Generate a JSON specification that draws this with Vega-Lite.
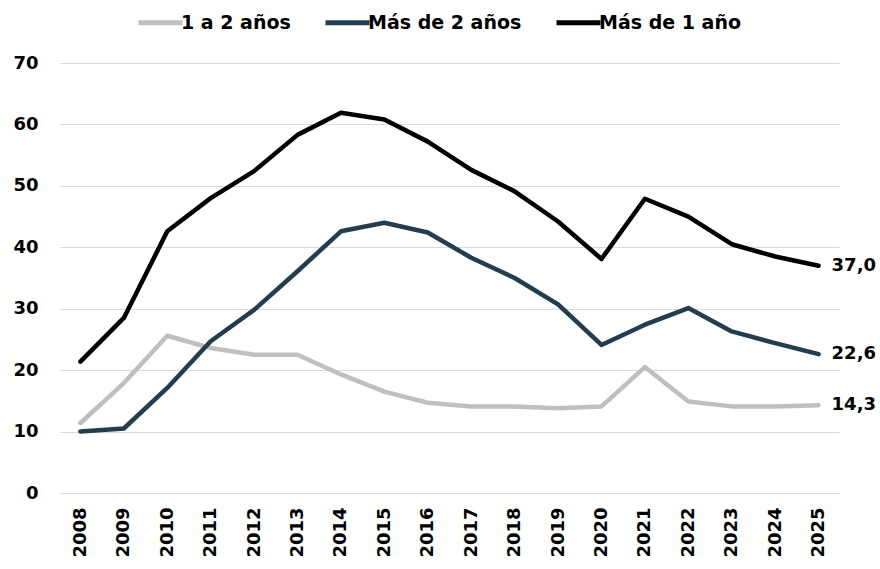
{
  "$schema": "https://vega.github.io/schema/vega-lite/v6.json",
  "autosize": {"type": "none"},
  "width": 779,
  "height": 430,
  "padding": {"left": 60, "top": 63, "right": 41, "bottom": 76},
  "background": "white",
  "config": {
    "view": {"stroke": null},
    "font": "DejaVu Sans",
    "locale": {"number": {"decimal": ",", "thousands": ".", "grouping": [3], "currency": ["", ""]}}
  },
  "data": {
    "values": [
      {"year": "2008", "serie": "1 a 2 años", "value": 11.4},
      {"year": "2009", "serie": "1 a 2 años", "value": 17.9},
      {"year": "2010", "serie": "1 a 2 años", "value": 25.6},
      {"year": "2011", "serie": "1 a 2 años", "value": 23.6},
      {"year": "2012", "serie": "1 a 2 años", "value": 22.5},
      {"year": "2013", "serie": "1 a 2 años", "value": 22.5},
      {"year": "2014", "serie": "1 a 2 años", "value": 19.3},
      {"year": "2015", "serie": "1 a 2 años", "value": 16.5},
      {"year": "2016", "serie": "1 a 2 años", "value": 14.7},
      {"year": "2017", "serie": "1 a 2 años", "value": 14.1},
      {"year": "2018", "serie": "1 a 2 años", "value": 14.1},
      {"year": "2019", "serie": "1 a 2 años", "value": 13.8},
      {"year": "2020", "serie": "1 a 2 años", "value": 14.1},
      {"year": "2021", "serie": "1 a 2 años", "value": 20.5},
      {"year": "2022", "serie": "1 a 2 años", "value": 14.9},
      {"year": "2023", "serie": "1 a 2 años", "value": 14.1},
      {"year": "2024", "serie": "1 a 2 años", "value": 14.1},
      {"year": "2025", "serie": "1 a 2 años", "value": 14.3},
      {"year": "2008", "serie": "Más de 2 años", "value": 10.0},
      {"year": "2009", "serie": "Más de 2 años", "value": 10.5},
      {"year": "2010", "serie": "Más de 2 años", "value": 17.1},
      {"year": "2011", "serie": "Más de 2 años", "value": 24.7},
      {"year": "2012", "serie": "Más de 2 años", "value": 29.8},
      {"year": "2013", "serie": "Más de 2 años", "value": 36.1},
      {"year": "2014", "serie": "Más de 2 años", "value": 42.6},
      {"year": "2015", "serie": "Más de 2 años", "value": 44.0},
      {"year": "2016", "serie": "Más de 2 años", "value": 42.4},
      {"year": "2017", "serie": "Más de 2 años", "value": 38.3},
      {"year": "2018", "serie": "Más de 2 años", "value": 35.0},
      {"year": "2019", "serie": "Más de 2 años", "value": 30.7},
      {"year": "2020", "serie": "Más de 2 años", "value": 24.1},
      {"year": "2021", "serie": "Más de 2 años", "value": 27.4},
      {"year": "2022", "serie": "Más de 2 años", "value": 30.1},
      {"year": "2023", "serie": "Más de 2 años", "value": 26.3},
      {"year": "2024", "serie": "Más de 2 años", "value": 24.4},
      {"year": "2025", "serie": "Más de 2 años", "value": 22.6},
      {"year": "2008", "serie": "Más de 1 año", "value": 21.4},
      {"year": "2009", "serie": "Más de 1 año", "value": 28.5},
      {"year": "2010", "serie": "Más de 1 año", "value": 42.6},
      {"year": "2011", "serie": "Más de 1 año", "value": 48.0},
      {"year": "2012", "serie": "Más de 1 año", "value": 52.4},
      {"year": "2013", "serie": "Más de 1 año", "value": 58.3},
      {"year": "2014", "serie": "Más de 1 año", "value": 61.9},
      {"year": "2015", "serie": "Más de 1 año", "value": 60.8},
      {"year": "2016", "serie": "Más de 1 año", "value": 57.2},
      {"year": "2017", "serie": "Más de 1 año", "value": 52.6},
      {"year": "2018", "serie": "Más de 1 año", "value": 49.1},
      {"year": "2019", "serie": "Más de 1 año", "value": 44.2},
      {"year": "2020", "serie": "Más de 1 año", "value": 38.1},
      {"year": "2021", "serie": "Más de 1 año", "value": 47.9},
      {"year": "2022", "serie": "Más de 1 año", "value": 45.0},
      {"year": "2023", "serie": "Más de 1 año", "value": 40.5},
      {"year": "2024", "serie": "Más de 1 año", "value": 38.5},
      {"year": "2025", "serie": "Más de 1 año", "value": 37.0}
    ]
  },
  "encoding": {
    "x": {
      "field": "year", "type": "ordinal",
      "scale": {"padding": 0.47},
      "axis": {"title": null, "labelAngle": -90, "labelFontSize": 18, "labelFontWeight": "bold", "labelColor": "black", "ticks": false, "domain": false, "labelPadding": 14, "grid": false}
    },
    "y": {
      "field": "value", "type": "quantitative",
      "scale": {"domain": [0, 70]},
      "axis": {"title": null, "values": [0, 10, 20, 30, 40, 50, 60, 70], "labelFontSize": 18, "labelFontWeight": "bold", "labelColor": "black", "ticks": false, "tickSize": 0, "domain": false, "labelPadding": 22, "gridColor": "#d9d9d9", "gridWidth": 1.2}
    },
    "color": {
      "field": "serie", "type": "nominal",
      "scale": {"domain": ["1 a 2 años", "Más de 2 años", "Más de 1 año"], "range": ["#bfbfbf", "#223e4e", "#000000"]},
      "legend": {"title": null, "orient": "none", "direction": "horizontal", "legendX": 76, "legendY": -65, "symbolType": "stroke", "symbolSize": 1936, "symbolStrokeWidth": 5, "labelFontSize": 19, "labelFontWeight": "bold", "labelColor": "black", "labelOffset": -4, "columnPadding": 24}
    }
  },
  "layer": [
    {"mark": {"type": "line", "strokeWidth": 4.5, "strokeCap": "round", "strokeJoin": "round"}},
    {
      "transform": [{"filter": "datum.year == '2025'"}],
      "mark": {"type": "text", "align": "left", "baseline": "middle", "dx": 13, "fontSize": 18, "fontWeight": "bold", "color": "black"},
      "encoding": {"text": {"field": "value", "type": "quantitative", "format": ".1f"}, "color": {"value": "black"}}
    }
  ]
}
